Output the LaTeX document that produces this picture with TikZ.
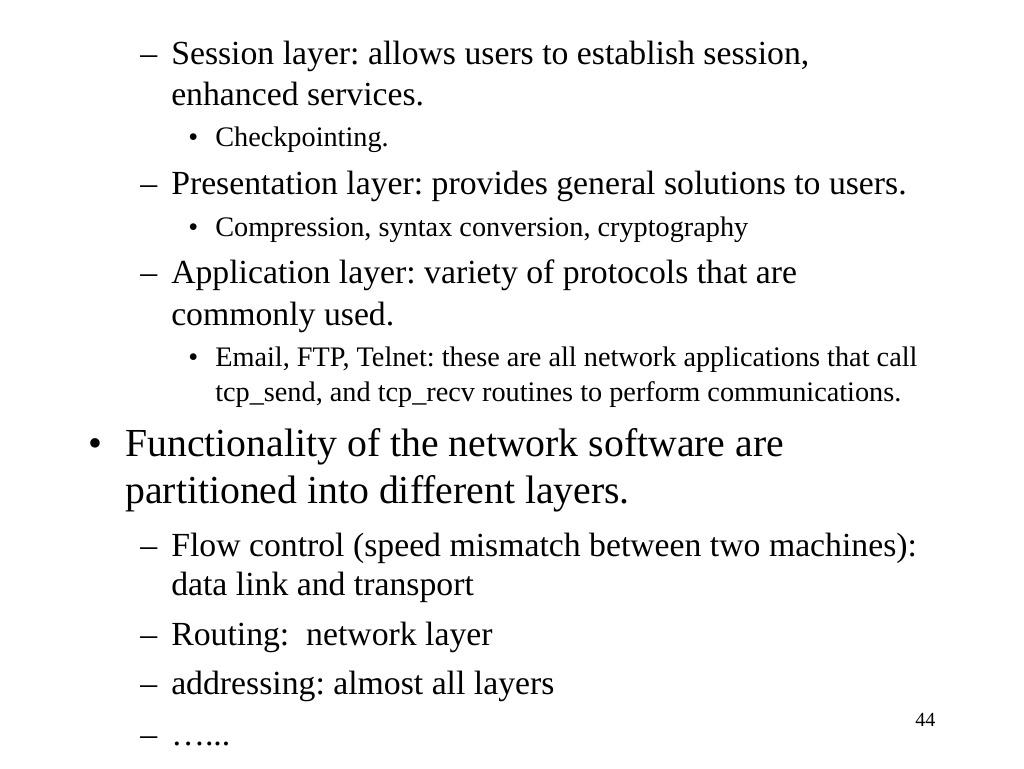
\documentclass[tikz,border=0pt]{standalone}
\usepackage{fontspec}
\setmainfont{Liberation Serif}
\frenchspacing
\begin{document}
\begin{tikzpicture}[x=0.75pt,y=-0.75pt,
  la/.style={anchor=base west,inner sep=0pt,font=\fontsize{29.8}{34}\selectfont},
  lb/.style={anchor=base west,inner sep=0pt,font=\fontsize{25.3}{30}\selectfont},
  lc/.style={anchor=base west,inner sep=0pt,font=\fontsize{21.2}{25}\selectfont}]
\useasboundingbox (0,0) rectangle (1024,768);
\node[lb] (d1) at (140,64) {–};
\node[lb] (t1) at (171,64) {Session layer: allows users to establish session,};
\node[lb] (t1b) at (171,105) {enhanced services.};
\node[lc] (b1) at (188,146) {•};
\node[lc] (c1) at (215,146) {Checkpointing.};
\node[lb] (d2) at (140,194) {–};
\node[lb] (t2) at (171,194) {Presentation layer: provides general solutions to users.};
\node[lc] (b2) at (188,236) {•};
\node[lc] (c2) at (215,236) {Compression, syntax conversion, cryptography};
\node[lb] (d3) at (140,283) {–};
\node[lb] (t3) at (171,283) {Application layer: variety of protocols that are};
\node[lb] (t3b) at (171,325) {commonly used.};
\node[lc] (b3) at (188,366) {•};
\node[lc] (c3) at (215,366) {Email, FTP, Telnet: these are all network applications that call};
\node[lc] (c3b) at (215,401) {tcp\_send, and tcp\_recv routines to perform communications.};
\node[la] (b4) at (88,456) {•};
\node[la] (t4) at (125,456) {Functionality of the network software are};
\node[la] (t4b) at (125,503) {partitioned into different layers.};
\node[lb] (d5) at (140,556) {–};
\node[lb] (t5) at (171,556) {Flow control (speed mismatch between two machines):};
\node[lb] (t5b) at (171,595) {data link and transport};
\node[lb] (d6) at (140,645) {–};
\node[lb] (t6) at (171,645) {Routing:\ \ network layer};
\node[lb] (d7) at (140,694) {–};
\node[lb] (t7) at (171,694) {addressing: almost all layers};
\node[lb] (d8) at (140,745) {–};
\node[lb] (t8) at (171,745) {…...};
\node[lc,font=\fontsize{15}{17}\selectfont] (pg) at (915,726) {44};
\end{tikzpicture}
\end{document}
